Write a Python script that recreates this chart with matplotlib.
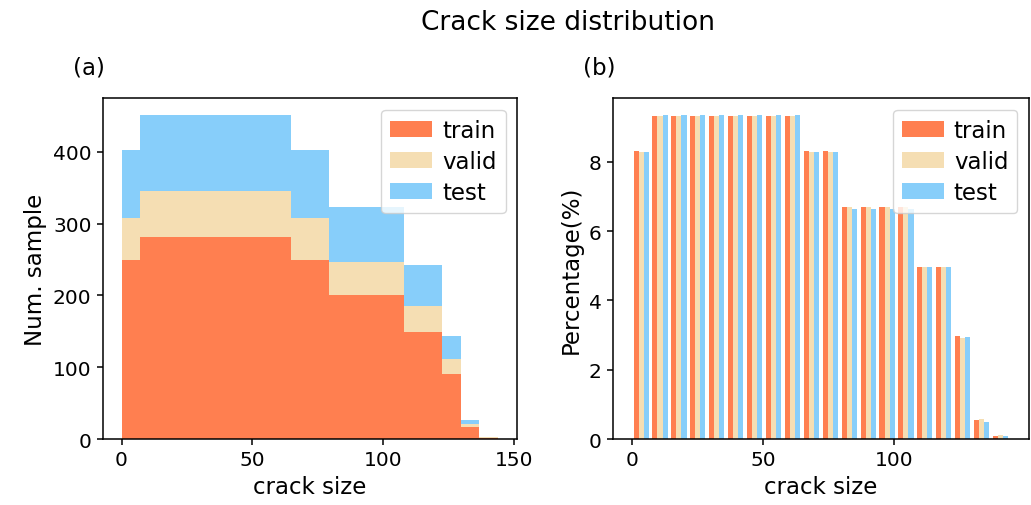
import matplotlib

matplotlib.use("Agg")
import matplotlib.pyplot as plt
import numpy as np

# 20 bins of width 7.2 over the crack size range
bin_edges = np.linspace(0, 144, 21)
series_names = ["train", "valid", "test"]
series_colors = ["coral", "wheat", "lightskyblue"]

# (a) stacked counts per bin
train_count = [250, 281, 281, 281, 281, 281, 281, 281, 281, 250, 250,
               201, 201, 201, 201, 149, 149, 90, 17, 2]
valid_count = [58, 64, 64, 64, 64, 64, 64, 64, 64, 58, 58,
               46, 46, 46, 46, 36, 36, 21, 4, 0.5]
test_count = [94, 107, 107, 107, 107, 107, 107, 107, 107, 94, 94,
              76, 76, 76, 76, 58, 58, 32, 5, 0.5]

# (b) percentage per bin
train_pct = [8.33, 9.33, 9.33, 9.33, 9.33, 9.33, 9.33, 9.33, 9.33, 8.33, 8.33,
             6.69, 6.69, 6.69, 6.69, 4.97, 4.97, 2.97, 0.55, 0.08]
valid_pct = [8.29, 9.32, 9.32, 9.32, 9.32, 9.32, 9.32, 9.32, 9.32, 8.29, 8.29,
             6.69, 6.69, 6.69, 6.69, 4.97, 4.97, 2.93, 0.59, 0.11]
test_pct = [8.28, 9.37, 9.37, 9.37, 9.37, 9.37, 9.37, 9.37, 9.37, 8.28, 8.28,
            6.64, 6.64, 6.64, 6.64, 4.97, 4.97, 2.96, 0.50, 0.08]

centers = 0.5 * (bin_edges[:-1] + bin_edges[1:])

plt.rcParams["font.family"] = ["DejaVu Sans"]
plt.rcParams["xtick.labelsize"] = 14.5
plt.rcParams["ytick.labelsize"] = 14.5
plt.rcParams["axes.labelsize"] = 16.5
plt.rcParams["legend.fontsize"] = 16.5
plt.rcParams["legend.handlelength"] = 1.8
plt.rcParams["legend.handletextpad"] = 0.45
plt.rcParams["legend.labelspacing"] = 0.35
plt.rcParams["axes.linewidth"] = 1.1
plt.rcParams["xtick.major.size"] = 4.5
plt.rcParams["ytick.major.size"] = 4.5
plt.rcParams["xtick.major.width"] = 1.1
plt.rcParams["ytick.major.width"] = 1.1

fig = plt.figure(figsize=(10.31, 5.06), dpi=100)
ax1 = fig.add_axes([0.0996, 0.1304, 0.4019, 0.6734])
ax2 = fig.add_axes([0.5943, 0.1304, 0.4037, 0.6734])

ax1.hist([centers] * 3, bins=bin_edges,
         weights=[train_count, valid_count, test_count],
         histtype="stepfilled", stacked=True,
         color=series_colors, label=series_names)
ax1.set_xlabel("crack size")
ax1.set_ylabel("Num. sample")
ax1.set_xticks([0, 50, 100, 150])
ax1.set_yticks([0, 100, 200, 300, 400])
# stacked hist lists the legend top-down; put train first like panel (b)
handles, labels = ax1.get_legend_handles_labels()
ax1.legend(handles[::-1], labels[::-1], loc="upper right")

ax2.hist([centers] * 3, bins=bin_edges,
         weights=[train_pct, valid_pct, test_pct],
         histtype="bar", color=series_colors, label=series_names)
ax2.set_xlim(ax1.get_xlim())
ax2.set_xlabel("crack size")
ax2.set_ylabel("Percentage(%)")
ax2.set_xticks([0, 50, 100])
ax2.set_yticks([0, 2, 4, 6, 8])
ax2.legend(loc="upper right")

fig.suptitle("Crack size distribution", x=0.551, y=0.9407, va="baseline",
             fontsize=19)
fig.text(0.0708, 0.8656, "(a)", fontsize=16.5, va="center", ha="left")
fig.text(0.5655, 0.8656, "(b)", fontsize=16.5, va="center", ha="left")

fig.savefig("out.png", dpi=100)
